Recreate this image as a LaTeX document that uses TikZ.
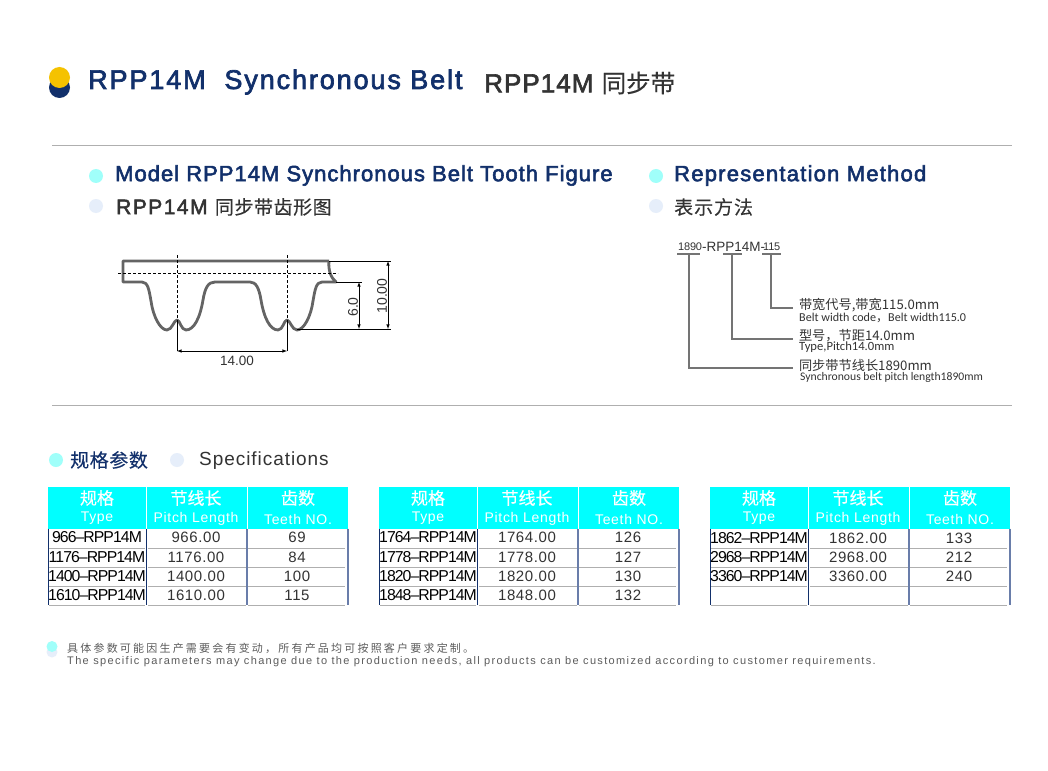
\documentclass[tikz,border=0pt]{standalone}
\usepackage{fontspec}
\setmainfont{Liberation Sans}
\newfontfamily\medfont[FakeBold=2.5]{Liberation Sans}
\newfontfamily\cjkfont{Noto Sans CJK SC}
\newfontfamily\cjkmed[FakeBold=0.3]{Noto Sans CJK SC}
\newfontfamily\notefont{Carlito}
\usetikzlibrary{calc}
\definecolor{mynavy}{RGB}{18,48,107}
\definecolor{myyellow}{RGB}{245,194,0}
\definecolor{mycyan}{RGB}{0,255,255}
\definecolor{mylightcyan}{RGB}{160,255,250}
\definecolor{mypale}{RGB}{230,238,250}
\definecolor{mytext}{RGB}{51,51,51}
\definecolor{myrule}{RGB}{175,175,175}
\definecolor{mybelt}{RGB}{100,100,100}
\definecolor{myside}{RGB}{105,125,170}
\newcommand{\pxsize}[1]{\fontsize{#1}{#1}\selectfont}
\newcommand{\spaced}[1]{\addfontfeature{LetterSpace=#1}}
\tikzset{
    common/.style={inner sep=0pt, anchor=center},
    bullet/.style={circle, inner sep=0pt, minimum size=14pt},
    bullet-cyan/.style={bullet, fill=mylightcyan},
    bullet-pale/.style={bullet, fill=mypale},
    heading/.style={common, anchor=west, text=mynavy, font=\medfont\pxsize{22}\spaced{4.6}},
    heading-cn/.style={common, anchor=west, text=mytext, font=\medfont\pxsize{21}\spaced{7}},
    head-cn/.style={common, text=white, font=\cjkmed\pxsize{17}},
    head-en/.style={common, text=white, font=\pxsize{14}\spaced{5}},
    cell-type/.style={common, text=black, font=\pxsize{15.8}\spaced{-6}},
    cell-num/.style={common, text=mytext, font=\pxsize{15}\spaced{4}},
    note-cn/.style={common, anchor=west, outer sep=6pt, text=mytext, font=\cjkfont\pxsize{13.2}},
    note-en/.style={common, anchor=west, text=mytext, font=\notefont\pxsize{12.1}},
    dim-label/.style={common, text=mytext, font=\pxsize{14}},
    belt-line/.style={mybelt, line width=2.8pt, line join=round},
    dim-line/.style={black, line width=.6pt},
    lead-line/.style={mybelt!90, line width=2pt},
    row-rule/.style={myrule, line width=1pt}
}
% header and frame of one table, #1 is its name
\newcommand{\spectable}[1]{
    \fill[mycyan] (48,486.5) rectangle (348,528.5);
    \draw[white, line width=1pt] (146,486.5) -- (146,528.5) (247,486.5) -- (247,528.5);
    \node[head-cn] (#1-type-cn) at (97,498) {规格};
    \node[head-en] (#1-type-en) at (97,518.5) {Type};
    \node[head-cn] (#1-len-cn) at (196,498) {节线长};
    \node[head-en] (#1-len-en) at (196,518.5) {Pitch Length};
    \node[head-cn] (#1-teeth-cn) at (298,498) {齿数};
    \node[head-en] (#1-teeth-en) at (298,519) {Teeth NO.};
    \draw[mynavy, line width=.9pt] (48.5,528.5) -- (48.5,605) (146,528.5) -- (146,605);
    \draw[myside, line width=1.2pt] (247,528.5) -- (247,605);
    \draw[myside, line width=1.8pt] (348,528.5) -- (348,605);
    \draw[row-rule] (49,548) -- (145,548) (148,548) -- (246,548) (248,548) -- (345,548);
    \draw[row-rule] (49,567) -- (145,567) (148,567) -- (246,567) (248,567) -- (345,567);
    \draw[row-rule] (49,586) -- (145,586) (148,586) -- (246,586) (248,586) -- (345,586);
    \draw[row-rule] (49,605) -- (145,605) (148,605) -- (246,605) (248,605) -- (345,605);
}
% one row: name, y, type, length, teeth
\newcommand{\specrow}[5]{
    \node[cell-type] (#1-type) at (97,#2) {#3};
    \node[cell-num] (#1-len) at (196,#2) {#4};
    \node[cell-num] (#1-teeth) at (297,#2) {#5};
}
\begin{document}
\begin{tikzpicture}[x=1pt, y=-1pt]
    \useasboundingbox[fill=white] (0,0) rectangle (1048,770);

    % title
    \node[circle, inner sep=0pt, minimum size=21pt, fill=mynavy] (dot-navy) at (59.5,87.5) {};
    \node[circle, inner sep=0pt, minimum size=21pt, fill=myyellow] (dot-yellow) at (59.5,77.5) {};
    \node[common, anchor=west, text=mynavy, font=\medfont\pxsize{27}\spaced{7}] (title-en) at (88,82) {RPP14M\ \ Synchronous Belt};
    \node[common, anchor=west, text=mytext, font=\medfont\pxsize{26}\spaced{4}] (title-cn) at (484,83) {RPP14M {\cjkmed\pxsize{24.5}同步带}};
    \draw[myrule, line width=1pt] (52,145.5) -- (1012,145.5);
    \draw[myrule, line width=1pt] (52,405) -- (1012,405);

    % section heads
    \node[bullet-cyan] (dot-model) at (96,176) {};
    \node[heading] (head-model) at (115,175.5) {Model RPP14M Synchronous Belt Tooth Figure};
    \node[bullet-pale] (dot-model-cn) at (96,206) {};
    \node[heading-cn] (head-model-cn) at (116,207) {RPP14M {\cjkmed\pxsize{19}\spaced{3}同步带齿形图}};
    \node[bullet-cyan] (dot-method) at (656,176) {};
    \node[heading, font=\medfont\pxsize{22}\spaced{5.6}] (head-method) at (674,175.5) {Representation Method};
    \node[bullet-pale] (dot-method-cn) at (656,206) {};
    \node[heading-cn] (head-method-cn) at (674,207) {\cjkmed\pxsize{19}\spaced{5}表示方法};

    % belt tooth figure
    \draw[belt-line] (329,261) -- (123,261) -- (123,282) -- (142,282)
        .. controls (148,282) and (149,290) .. (151,301)
        .. controls (153,316) and (160,330) .. (167,330)
        .. controls (172,330) and (174,320) .. (177,320)
        .. controls (180,320) and (181,330) .. (186,330)
        .. controls (194,330) and (200,318) .. (203,300)
        .. controls (205,288) and (208,282) .. (215,282)
        -- (250,282)
        .. controls (256,282) and (259,288) .. (261,300)
        .. controls (264,318) and (270,330) .. (278,330)
        .. controls (283,330) and (284,320) .. (287,320)
        .. controls (290,320) and (292,330) .. (297,330)
        .. controls (304,330) and (311,316) .. (313,301)
        .. controls (315,290) and (316,282) .. (322,282)
        -- (336,282)
        .. controls (331,278) and (328,270) .. (329,261);
    \draw[dim-line, densely dashed] (118,273) -- (338,273);
    \draw[dim-line, densely dashed] (177,255) -- (177,320) (287,255) -- (287,320);

    \coordinate (pitch-l) at (177,320);
    \coordinate (pitch-r) at (287,320);
    \coordinate (pitch-lb) at (177,351);
    \coordinate (pitch-rb) at (287,351);
    \draw[dim-line] (pitch-l) -- (pitch-lb) (pitch-r) -- (pitch-rb);
    \draw[dim-line, <->, >=latex] (pitch-lb) -- (pitch-rb);
    \node[dim-label, font=\pxsize{13.5}] (pitch-label) at (237,360.5) {14.00};

    \coordinate (top-end) at (329,261);
    \coordinate (top-dim) at (388,261);
    \coordinate (mid-end) at (336,282);
    \coordinate (mid-dim) at (359,282);
    \coordinate (low-end) at (297,329);
    \coordinate (low-dim-a) at (359,329);
    \coordinate (low-dim-b) at (388,329);
    \draw[dim-line] (top-end) -- ++(62,0) (mid-end) -- ++(26,0) (low-end) -- ++(94,0);
    \draw[dim-line, <->, >=latex] (mid-dim) -- (low-dim-a);
    \draw[dim-line, <->, >=latex] (top-dim) -- (low-dim-b);
    \node[dim-label, rotate=90] (tooth-label) at (353,307) {6.0};
    \node[dim-label, rotate=90] (height-label) at (382,296) {10.00};

    % representation method
    \node[common, anchor=west, text=mytext, font=\pxsize{11}\spaced{-2}] (code-len) at (678,246.5) {1890};
    \node[common, anchor=west, text=mytext, font=\pxsize{13.5}] (code-model) at (702,246.5) {-RPP14M-};
    \node[common, anchor=west, text=mytext, font=\pxsize{11}\spaced{-2}] (code-width) at (763,246.5) {115};
    \draw[lead-line] (677,254) -- (700,254) (723,254) -- (742,254) (762,254) -- (781,254);
    \coordinate (bar-width) at (771,254);
    \coordinate (bar-model) at (732,254);
    \coordinate (bar-len) at (689,254);
    \node[note-cn] (note-width) at (793,305.5) {带宽代号,带宽115.0mm};
    \node[note-en] (note-width-en) at (799,317.5) {Belt width code{\cjkfont ，}Belt width115.0};
    \node[note-cn] (note-model) at (793,335.5) {型号，节距14.0mm};
    \node[note-en, font=\notefont\pxsize{12.6}] (note-model-en) at (799,347) {Type,Pitch14.0mm};
    \node[note-cn] (note-len) at (793,365.5) {同步带节线长1890mm};
    \node[note-en, font=\notefont\pxsize{11.65}] (note-len-en) at (800,377.5) {Synchronous belt pitch length1890mm};
    \draw[lead-line] (bar-width) |- (793,307.5);
    \draw[lead-line] (bar-model) |- (793,338.5);
    \draw[lead-line] (bar-len) |- (793,368);

    % specifications
    \node[bullet-cyan] (dot-spec) at (56,460) {};
    \node[common, anchor=west, text=mynavy, font=\cjkmed\pxsize{19}\spaced{3}] (head-spec) at (70,460) {规格参数};
    \node[bullet-pale] (dot-spec-en) at (177,460) {};
    \node[common, anchor=west, text=mytext, font=\pxsize{19}\spaced{5}] (head-spec-en) at (199,461) {Specifications};

    \spectable{ta}
    \specrow{ta-1}{537}{966–RPP14M}{966.00}{69}
    \specrow{ta-2}{557}{1176–RPP14M}{1176.00}{84}
    \specrow{ta-3}{576}{1400–RPP14M}{1400.00}{100}
    \specrow{ta-4}{595}{1610–RPP14M}{1610.00}{115}

    \begin{scope}[shift={(331,0)}]
        \spectable{tb}
        \specrow{tb-1}{537}{1764–RPP14M}{1764.00}{126}
        \specrow{tb-2}{557}{1778–RPP14M}{1778.00}{127}
        \specrow{tb-3}{576}{1820–RPP14M}{1820.00}{130}
        \specrow{tb-4}{595}{1848–RPP14M}{1848.00}{132}
    \end{scope}

    \begin{scope}[shift={(662,0)}]
        \spectable{tc}
        \specrow{tc-1}{538}{1862–RPP14M}{1862.00}{133}
        \specrow{tc-2}{557}{2968–RPP14M}{2968.00}{212}
        \specrow{tc-3}{576}{3360–RPP14M}{3360.00}{240}
    \end{scope}

    % footnote
    \node[circle, inner sep=0pt, minimum size=11pt, fill=mypale] (dot-foot-b) at (52,652) {};
    \node[circle, inner sep=0pt, minimum size=11pt, fill=mylightcyan] (dot-foot-a) at (52,646.5) {};
    \node[common, anchor=west, text=mytext!80, font=\cjkfont\pxsize{11}\spaced{20}] (foot-cn) at (67,648) {具体参数可能因生产需要会有变动，所有产品均可按照客户要求定制。};
    \node[common, anchor=west, text=mytext!80, font=\pxsize{11}\spaced{12.3}] (foot-en) at (67,662) {The specific parameters may change due to the production needs, all products can be customized according to customer requirements.};
\end{tikzpicture}
\end{document}
